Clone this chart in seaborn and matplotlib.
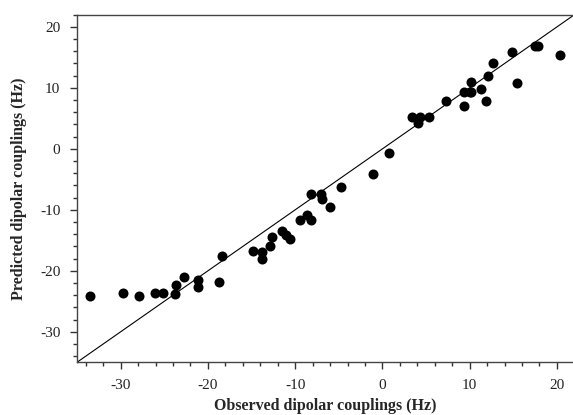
import numpy as np
import pandas as pd
import matplotlib
matplotlib.use("Agg")
import matplotlib.pyplot as plt
import seaborn as sns
from matplotlib.ticker import MultipleLocator

observed = [-33.5, -29.7, -27.9, -26.1, -25.2, -23.8, -23.7, -22.7, -21.1, -21.1,
            -18.7, -18.4, -14.8, -13.8, -13.8, -12.9, -12.7, -11.5, -11.0, -10.6,
            -9.4, -8.7, -8.2, -8.2, -7.0, -6.9, -6.0, -4.7, -1.1, 0.8,
            3.4, 4.3, 4.1, 5.3, 7.3, 9.3, 9.4, 10.0, 10.2, 10.2,
            11.3, 11.9, 12.1, 12.7, 14.8, 15.4, 17.5, 17.8, 20.4]
predicted = [-24.1, -23.7, -24.1, -23.7, -23.7, -23.8, -22.3, -21.0, -21.5, -22.7,
             -21.8, -17.5, -16.7, -18.0, -16.9, -15.9, -14.5, -13.4, -14.1, -14.8,
             -11.6, -10.8, -11.6, -7.4, -7.4, -8.2, -9.6, -6.2, -4.2, -0.6,
             5.3, 5.3, 4.3, 5.3, 7.9, 7.1, 9.4, 9.4, 11.0, 9.4,
             9.8, 7.9, 12.0, 14.0, 15.9, 10.8, 16.8, 16.9, 15.4]
diag = [-35, 22]

df = pd.DataFrame({"obs": observed, "pred": predicted})

sns.set_style("ticks")
plt.rcParams['font.family'] = ['Liberation Serif', 'DejaVu Serif']
plt.rcParams['axes.unicode_minus'] = False

fig = plt.figure(figsize=(5.73, 4.15), dpi=100)
ax = fig.add_axes([77/573, 1 - 362.3/415, (574.4 - 77)/573, (362.3 - 14.7)/415])

sns.lineplot(x=diag, y=diag, ax=ax, color="black", linewidth=0.8)
sns.scatterplot(data=df, x="obs", y="pred", ax=ax, color="black", s=52,
                edgecolor="black", linewidth=0, zorder=3)

ax.set_xlim(-35, 22)
ax.set_ylim(-35, 22)
ax.xaxis.set_major_locator(MultipleLocator(10))
ax.xaxis.set_minor_locator(MultipleLocator(2))
ax.yaxis.set_major_locator(MultipleLocator(10))
ax.yaxis.set_minor_locator(MultipleLocator(2))

for side in ["left", "bottom", "top"]:
    ax.spines[side].set_color("#444444")
    ax.spines[side].set_linewidth(1.0)
ax.spines["right"].set_visible(False)

ax.tick_params(which="major", direction="out", length=5, width=1, color="#333333",
               labelsize=11, labelcolor="#222222", pad=4)
ax.tick_params(which="minor", direction="out", length=3, width=1, color="#333333")
ax.tick_params(axis="x", which="major", pad=7)
ax.tick_params(axis="y", which="major", pad=7)

ax.set_xlabel("Observed dipolar couplings (Hz)", fontsize=11.5, fontweight="bold", labelpad=4)
ax.set_ylabel("Predicted dipolar couplings (Hz)", fontsize=11.5, fontweight="bold", labelpad=9)

fig.savefig("out.png", dpi=100)
